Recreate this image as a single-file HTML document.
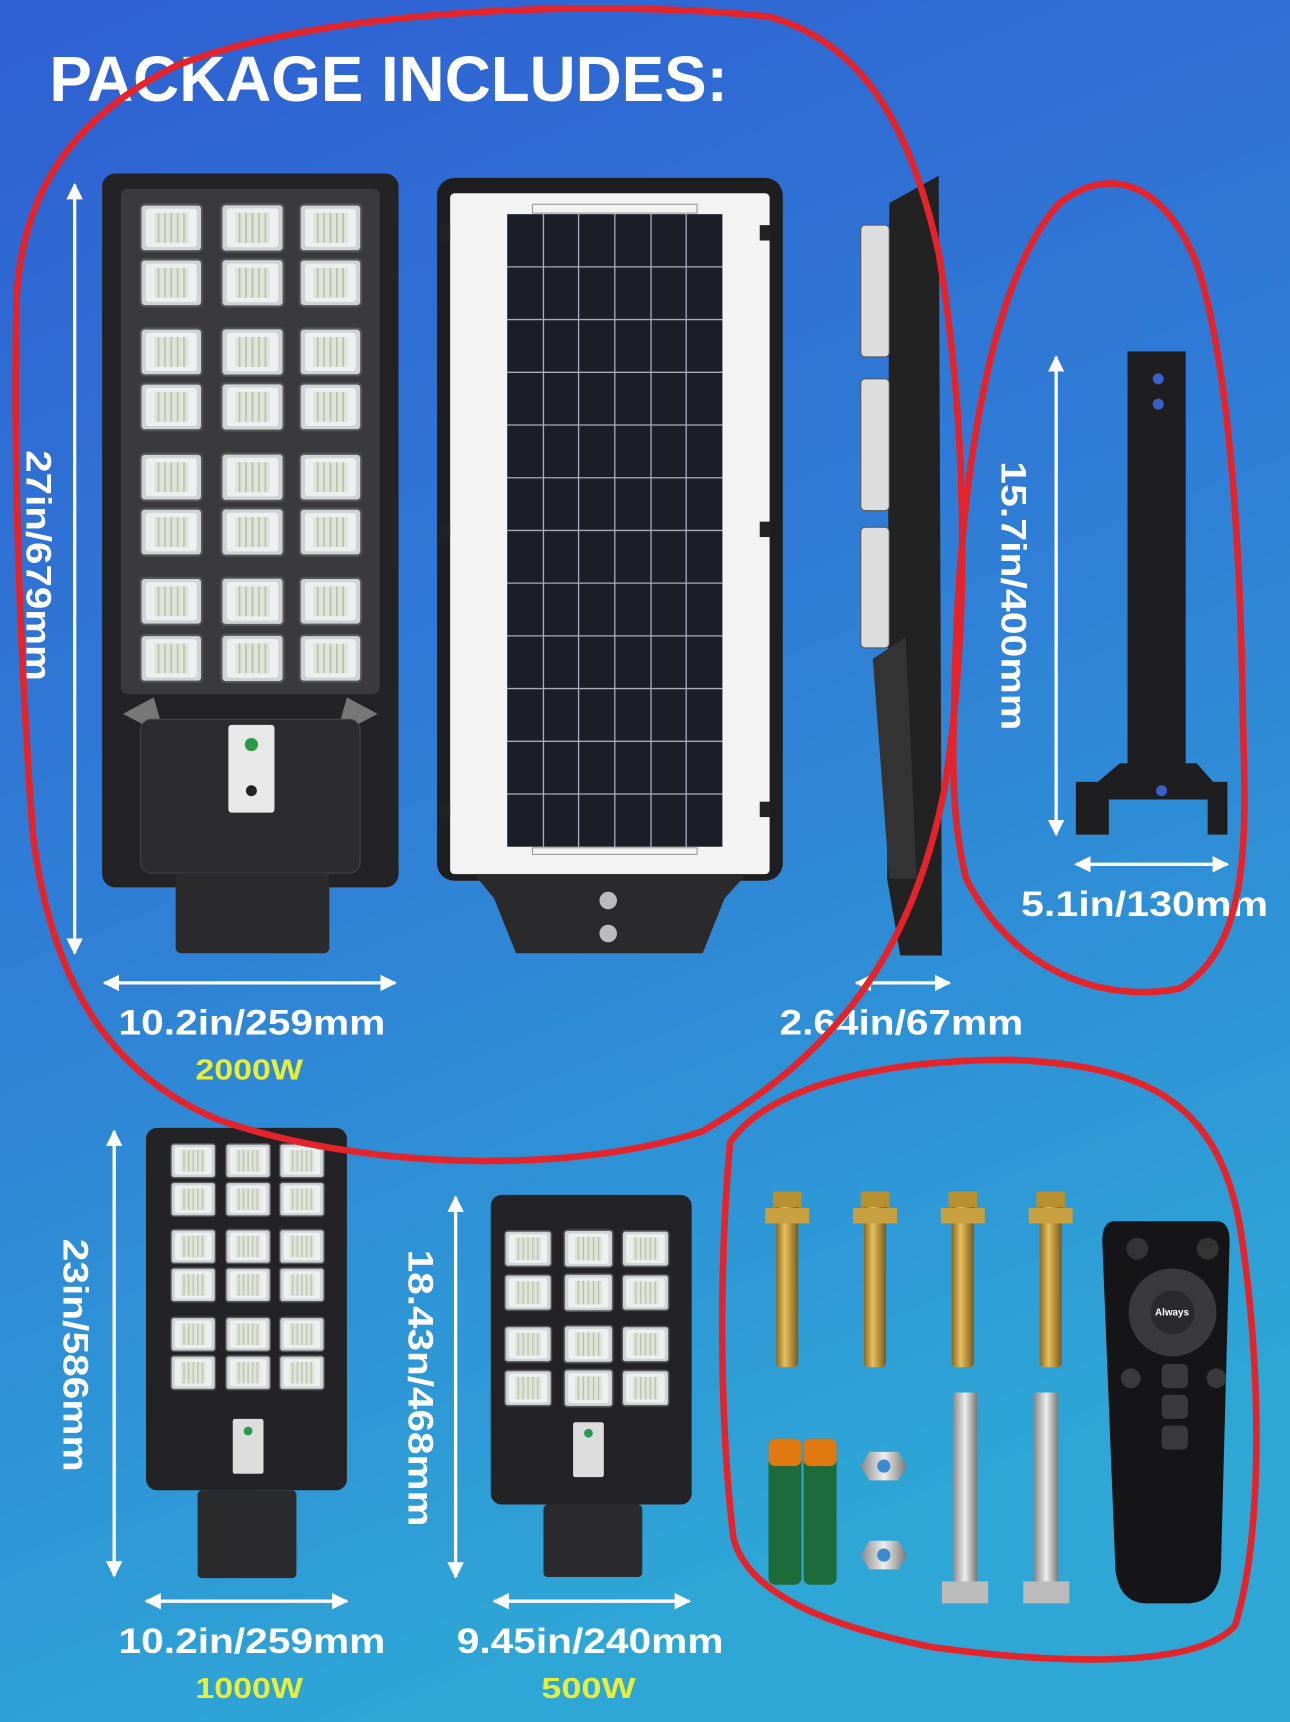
<!DOCTYPE html>
<html><head><meta charset="utf-8"><style>
html,body{margin:0;padding:0;width:1290px;height:1722px;overflow:hidden}
svg{display:block}
text{font-family:"Liberation Sans",sans-serif;font-weight:bold}
</style></head><body>
<svg width="1290" height="1722" viewBox="0 0 1175 1568" preserveAspectRatio="none" xmlns="http://www.w3.org/2000/svg">
<defs>
<linearGradient id="bg" x1="0" y1="0" x2="0.3" y2="1">
<stop offset="0" stop-color="#2f5fd2"/><stop offset="0.5" stop-color="#2f7ed6"/><stop offset="1" stop-color="#2ea6d6"/></linearGradient>
<linearGradient id="gold" x1="0" x2="1"><stop offset="0" stop-color="#8a6a20"/><stop offset="0.4" stop-color="#e8c060"/><stop offset="1" stop-color="#7a5a18"/></linearGradient>
<linearGradient id="steel" x1="0" x2="1"><stop offset="0" stop-color="#888"/><stop offset="0.5" stop-color="#eee"/><stop offset="1" stop-color="#777"/></linearGradient>
<symbol id="m" viewBox="0 0 60 46">
<rect x="1" y="1" width="58" height="44" rx="4" fill="#cfd3d6" stroke="#555" stroke-width="2"/>
<rect x="6" y="5" width="48" height="36" rx="3" fill="#eef0ef"/>
<rect x="14" y="9" width="32" height="28" fill="#dfe3d8"/>
<path d="M18 9v28M24 9v28M30 9v28M36 9v28M42 9v28" stroke="#b8c0b0" stroke-width="1.5"/>
</symbol>
<marker id="ah" viewBox="0 0 10 10" refX="9" refY="5" markerWidth="5" markerHeight="5" orient="auto-start-reverse"><path d="M0 0L10 5L0 10z" fill="#fff"/></marker>
</defs>
<rect width="1175" height="1568" fill="url(#bg)"/>
<text x="45" y="92" font-size="58" fill="#fff" textLength="618" lengthAdjust="spacingAndGlyphs">PACKAGE INCLUDES:</text>

<!-- big lamp -->
<rect x="93" y="158" width="270" height="650" rx="12" fill="#232325"/>
<rect x="110" y="172" width="236" height="460" rx="6" fill="#3a3a3c"/>
<g>
<use href="#m" x="127" y="185" width="58" height="45"/><use href="#m" x="198" y="185" width="64" height="45"/><use href="#m" x="272" y="185" width="58" height="45"/>
<use href="#m" x="127" y="235" width="58" height="45"/><use href="#m" x="198" y="235" width="64" height="45"/><use href="#m" x="272" y="235" width="58" height="45"/>
<use href="#m" x="127" y="298" width="58" height="45"/><use href="#m" x="198" y="298" width="64" height="45"/><use href="#m" x="272" y="298" width="58" height="45"/>
<use href="#m" x="127" y="348" width="58" height="45"/><use href="#m" x="198" y="348" width="64" height="45"/><use href="#m" x="272" y="348" width="58" height="45"/>
<use href="#m" x="127" y="412" width="58" height="45"/><use href="#m" x="198" y="412" width="64" height="45"/><use href="#m" x="272" y="412" width="58" height="45"/>
<use href="#m" x="127" y="462" width="58" height="45"/><use href="#m" x="198" y="462" width="64" height="45"/><use href="#m" x="272" y="462" width="58" height="45"/>
<use href="#m" x="127" y="525" width="58" height="45"/><use href="#m" x="198" y="525" width="64" height="45"/><use href="#m" x="272" y="525" width="58" height="45"/>
<use href="#m" x="127" y="577" width="58" height="45"/><use href="#m" x="198" y="577" width="64" height="45"/><use href="#m" x="272" y="577" width="58" height="45"/>
</g>
<path d="M112 650 L140 635 L150 670z M344 650 L316 635 L306 670z" fill="#777"/>
<rect x="128" y="655" width="200" height="140" rx="10" fill="#2c2c2e" stroke="#444"/>
<rect x="208" y="660" width="42" height="80" rx="3" fill="#e8e8e8"/>
<circle cx="229" cy="678" r="6" fill="#2a9a4a"/><circle cx="229" cy="720" r="5" fill="#222"/>
<rect x="160" y="795" width="140" height="73" rx="5" fill="#2b2b2d"/>

<!-- panel -->
<rect x="398" y="162" width="315" height="640" rx="16" fill="#1e1e20"/>
<rect x="410" y="176" width="291" height="620" rx="4" fill="#f3f3f3"/>
<rect x="462" y="195" width="196" height="576" fill="#1b1e26"/>
<g stroke="#aab" stroke-width="1.2">
<path d="M462 243h196M462 291h196M462 339h196M462 387h196M462 435h196M462 483h196M462 531h196M462 579h196M462 627h196M462 675h196M462 723h196"/>
<path d="M495 195v576M527 195v576M560 195v576M593 195v576M625 195v576"/>
</g>
<rect x="485" y="186" width="150" height="8" fill="none" stroke="#999"/>
<rect x="485" y="772" width="150" height="6" fill="none" stroke="#999"/>
<g fill="#222"><rect x="400" y="205" width="10" height="14"/><rect x="400" y="475" width="10" height="14"/><rect x="400" y="730" width="10" height="14"/><rect x="692" y="205" width="10" height="14"/><rect x="692" y="475" width="10" height="14"/><rect x="692" y="730" width="10" height="14"/></g>
<path d="M432 796 H680 L660 818 L640 868 H470 L450 818z" fill="#2a2a2c"/>
<circle cx="554" cy="820" r="8" fill="#bbb"/><circle cx="554" cy="850" r="8" fill="#bbb"/>

<!-- side -->
<path d="M810 185 L855 160 L858 870 L820 870 L808 800z" fill="#222"/>
<g fill="#ddd" stroke="#555"><rect x="784" y="205" width="26" height="120" rx="4"/><rect x="784" y="345" width="26" height="120" rx="4"/><rect x="784" y="480" width="26" height="110" rx="4"/></g>
<path d="M795 600 L825 580 L835 800 L810 800z" fill="#333"/>

<!-- bracket -->
<rect x="1027" y="320" width="53" height="390" fill="#1e1e20"/>
<circle cx="1055" cy="345" r="5" fill="#3a5fc8"/><circle cx="1055" cy="368" r="5" fill="#3a5fc8"/>
<path d="M980 712 H1000 L1020 695 H1090 L1105 712 H1118 V760 H1100 V728 H1010 V760 H980z" fill="#1e1e20"/>
<circle cx="1058" cy="720" r="5" fill="#3a5fc8"/>

<!-- 1000W lamp -->
<rect x="133" y="1027" width="183" height="330" rx="10" fill="#232325"/>
<g>
<use href="#m" x="155" y="1040" width="42" height="34"/><use href="#m" x="205" y="1040" width="42" height="34"/><use href="#m" x="254" y="1040" width="42" height="34"/>
<use href="#m" x="155" y="1075" width="42" height="34"/><use href="#m" x="205" y="1075" width="42" height="34"/><use href="#m" x="254" y="1075" width="42" height="34"/>
<use href="#m" x="155" y="1118" width="42" height="34"/><use href="#m" x="205" y="1118" width="42" height="34"/><use href="#m" x="254" y="1118" width="42" height="34"/>
<use href="#m" x="155" y="1153" width="42" height="34"/><use href="#m" x="205" y="1153" width="42" height="34"/><use href="#m" x="254" y="1153" width="42" height="34"/>
<use href="#m" x="155" y="1198" width="42" height="34"/><use href="#m" x="205" y="1198" width="42" height="34"/><use href="#m" x="254" y="1198" width="42" height="34"/>
<use href="#m" x="155" y="1233" width="42" height="34"/><use href="#m" x="205" y="1233" width="42" height="34"/><use href="#m" x="254" y="1233" width="42" height="34"/>
</g>
<rect x="212" y="1292" width="28" height="50" rx="2" fill="#ddd"/><circle cx="226" cy="1303" r="4" fill="#2a9a4a"/>
<rect x="180" y="1357" width="90" height="80" rx="4" fill="#2b2b2d"/>

<!-- 500W lamp -->
<rect x="447" y="1088" width="183" height="282" rx="10" fill="#232325"/>
<g>
<use href="#m" x="459" y="1118" width="44" height="38"/><use href="#m" x="513" y="1118" width="46" height="38"/><use href="#m" x="566" y="1118" width="44" height="38"/>
<use href="#m" x="459" y="1158" width="44" height="38"/><use href="#m" x="513" y="1158" width="46" height="38"/><use href="#m" x="566" y="1158" width="44" height="38"/>
<use href="#m" x="459" y="1205" width="44" height="38"/><use href="#m" x="513" y="1205" width="46" height="38"/><use href="#m" x="566" y="1205" width="44" height="38"/>
<use href="#m" x="459" y="1245" width="44" height="38"/><use href="#m" x="513" y="1245" width="46" height="38"/><use href="#m" x="566" y="1245" width="44" height="38"/>
</g>
<rect x="522" y="1295" width="28" height="50" rx="2" fill="#ddd"/><circle cx="536" cy="1305" r="4" fill="#2a9a4a"/>
<rect x="495" y="1370" width="90" height="66" rx="4" fill="#2b2b2d"/>

<!-- bolts -->
<g>
<g transform="translate(717,0)"><rect x="-10" y="1095" width="20" height="150" rx="4" fill="url(#gold)"/><rect x="-20" y="1100" width="40" height="14" fill="#c9a040"/><rect x="-13" y="1085" width="26" height="14" fill="#b89030"/></g>
<g transform="translate(797,0)"><rect x="-10" y="1095" width="20" height="150" rx="4" fill="url(#gold)"/><rect x="-20" y="1100" width="40" height="14" fill="#c9a040"/><rect x="-13" y="1085" width="26" height="14" fill="#b89030"/></g>
<g transform="translate(877,0)"><rect x="-10" y="1095" width="20" height="150" rx="4" fill="url(#gold)"/><rect x="-20" y="1100" width="40" height="14" fill="#c9a040"/><rect x="-13" y="1085" width="26" height="14" fill="#b89030"/></g>
<g transform="translate(957,0)"><rect x="-10" y="1095" width="20" height="150" rx="4" fill="url(#gold)"/><rect x="-20" y="1100" width="40" height="14" fill="#c9a040"/><rect x="-13" y="1085" width="26" height="14" fill="#b89030"/></g>
</g>
<rect x="700" y="1310" width="30" height="133" rx="6" fill="#1d6a3a"/><rect x="732" y="1310" width="30" height="133" rx="6" fill="#1d6a3a"/>
<rect x="700" y="1310" width="30" height="25" rx="6" fill="#e07a10"/><rect x="732" y="1310" width="30" height="25" rx="6" fill="#e07a10"/>
<polygon points="792,1322 818,1322 826,1335 818,1348 792,1348 784,1335" fill="url(#steel)"/><circle cx="805" cy="1335" r="6" fill="#3a8ad2"/>
<polygon points="792,1403 818,1403 826,1416 818,1429 792,1429 784,1416" fill="url(#steel)"/><circle cx="805" cy="1416" r="6" fill="#3a8ad2"/>
<rect x="868" y="1268" width="22" height="175" fill="url(#steel)"/><rect x="858" y="1440" width="42" height="20" fill="#bbb"/>
<rect x="942" y="1268" width="22" height="175" fill="url(#steel)"/><rect x="932" y="1440" width="42" height="20" fill="#bbb"/>
<!-- remote -->
<path d="M1015 1112 H1108 Q1120 1112 1120 1130 L1112 1430 Q1108 1460 1080 1460 H1045 Q1020 1460 1016 1430 L1004 1130 Q1004 1112 1015 1112z" fill="#151517"/>
<circle cx="1068" cy="1195" r="40" fill="#3a3a3c"/><circle cx="1068" cy="1195" r="20" fill="#2a2a2c"/>
<text x="1052" y="1198" font-size="9" fill="#fff">Always</text>
<circle cx="1036" cy="1137" r="10" fill="#333"/><circle cx="1100" cy="1137" r="10" fill="#333"/>
<rect x="1058" y="1242" width="24" height="22" rx="5" fill="#3a3a3c"/><rect x="1058" y="1270" width="24" height="22" rx="5" fill="#3a3a3c"/><rect x="1058" y="1298" width="24" height="22" rx="5" fill="#3a3a3c"/>
<circle cx="1030" cy="1255" r="9" fill="#3a3a3c"/><circle cx="1108" cy="1255" r="9" fill="#3a3a3c"/>

<!-- arrows -->
<g stroke="#fff" stroke-width="3" marker-start="url(#ah)" marker-end="url(#ah)">
<line x1="68" y1="168" x2="68" y2="868"/>
<line x1="95" y1="895" x2="360" y2="895"/>
<line x1="780" y1="895" x2="865" y2="895"/>
<line x1="962" y1="325" x2="962" y2="760"/>
<line x1="980" y1="787" x2="1118" y2="787"/>
<line x1="104" y1="1030" x2="104" y2="1435"/>
<line x1="133" y1="1458" x2="316" y2="1458"/>
<line x1="415" y1="1090" x2="415" y2="1436"/>
<line x1="450" y1="1458" x2="628" y2="1458"/>
</g>

<!-- labels -->
<g fill="#fff" font-size="32">
<text x="108" y="942" textLength="243" lengthAdjust="spacingAndGlyphs">10.2in/259mm</text>
<text x="710" y="942" textLength="222" lengthAdjust="spacingAndGlyphs">2.64in/67mm</text>
<text x="930" y="834" textLength="225" lengthAdjust="spacingAndGlyphs">5.1in/130mm</text>
<text x="108" y="1505" textLength="243" lengthAdjust="spacingAndGlyphs">10.2in/259mm</text>
<text x="416" y="1505" textLength="243" lengthAdjust="spacingAndGlyphs">9.45in/240mm</text>
<text transform="translate(24,410) rotate(90)" textLength="210" lengthAdjust="spacingAndGlyphs">27in/679mm</text>
<text transform="translate(912,420) rotate(90)" textLength="245" lengthAdjust="spacingAndGlyphs">15.7in/400mm</text>
<text transform="translate(58,1128) rotate(90)" textLength="212" lengthAdjust="spacingAndGlyphs">23in/586mm</text>
<text transform="translate(372,1138) rotate(90)" textLength="252" lengthAdjust="spacingAndGlyphs">18.43n/468mm</text>
</g>
<g fill="#e6ee3a" font-size="26">
<text x="178" y="983" textLength="98" lengthAdjust="spacingAndGlyphs">2000W</text>
<text x="178" y="1546" textLength="98" lengthAdjust="spacingAndGlyphs">1000W</text>
<text x="493" y="1546" textLength="86" lengthAdjust="spacingAndGlyphs">500W</text>
</g>

<!-- red scribbles -->
<g fill="none" stroke="#e4242a" stroke-width="6" stroke-linecap="round" stroke-linejoin="round">
<path d="M15 272 C20 180 60 110 160 60 C300 5 560 0 700 15 C790 40 830 120 855 230 C880 380 885 560 860 720 C830 870 760 960 640 1030 C520 1070 330 1065 200 1020 C90 975 45 880 30 760 C18 600 12 420 15 272"/>
<path d="M870 610 C875 420 905 250 965 185 C1010 150 1060 165 1090 240 C1120 330 1130 500 1132 650 C1135 760 1140 860 1075 900 C1000 915 920 880 880 800 C865 740 868 680 870 610"/>
<path d="M665 1040 C700 990 800 965 920 965 C1040 970 1110 1000 1130 1120 C1150 1250 1150 1400 1125 1480 C1090 1520 960 1515 850 1500 C750 1480 680 1450 668 1400 C655 1290 655 1150 665 1040"/>
</g>
</svg>
</body></html>
